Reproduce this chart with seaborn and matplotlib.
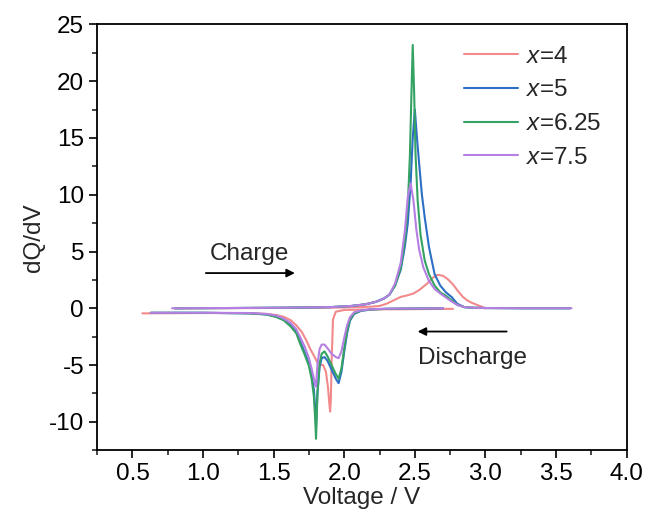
import matplotlib
matplotlib.use("Agg")
import matplotlib.pyplot as plt
import seaborn as sns
import pandas as pd

# legend labels and colours
labels = ["$x$=4", "$x$=5", "$x$=6.25", "$x$=7.5"]
colors = ["#f28a8c", "#2c6fc4", "#34a262", "#b57fe3"]

# charge branches (voltage, dQ/dV)
v_chg_4 = [0.80, 1.40, 1.90, 2.10, 2.20, 2.25, 2.30, 2.35, 2.40, 2.45, 2.49, 2.53, 2.56, 2.59,
           2.62, 2.65, 2.67, 2.70, 2.73, 2.77, 2.80, 2.84, 2.87, 2.90, 2.94, 2.97, 3.00]
q_chg_4 = [0, 0.02, 0.05, 0.1, 0.15, 0.2, 0.4, 0.7, 1.0, 1.15, 1.3, 1.6, 1.9, 2.2,
           2.6, 2.9, 2.94, 2.85, 2.6, 2.1, 1.6, 1.0, 0.7, 0.5, 0.3, 0.15, 0.0]

v_chg_5 = [0.80, 1.20, 1.60, 1.90, 2.05, 2.15, 2.22, 2.28, 2.32, 2.36, 2.40, 2.43, 2.45, 2.47,
           2.485, 2.50, 2.515, 2.53, 2.55, 2.57, 2.60, 2.64, 2.68, 2.72, 2.76, 2.80, 2.85, 2.90,
           3.00, 3.30, 3.60]
q_chg_5 = [0, 0.02, 0.05, 0.1, 0.2, 0.35, 0.55, 0.85, 1.2, 2.0, 3.4, 5.5, 7.5, 11.0,
           15.0, 17.5, 15.0, 12.8, 10.0, 8.0, 5.4, 3.0, 2.0, 1.4, 1.0, 0.4, 0.1, 0.05,
           0.02, 0, 0]

v_chg_625 = [0.80, 1.20, 1.60, 1.90, 2.05, 2.15, 2.22, 2.28, 2.32, 2.36, 2.40, 2.43, 2.45, 2.465,
             2.475, 2.485, 2.495, 2.505, 2.52, 2.54, 2.57, 2.60, 2.64, 2.68, 2.72, 2.76, 2.80,
             2.85, 2.90, 3.00, 3.30, 3.60]
q_chg_625 = [0, 0.02, 0.05, 0.1, 0.2, 0.35, 0.55, 0.85, 1.2, 2.0, 3.6, 6.0, 9.0, 13.5,
             18.5, 23.2, 19.0, 13.5, 9.5, 6.5, 4.2, 3.0, 2.0, 1.4, 1.1, 0.7, 0.3,
             0.1, 0.05, 0.02, 0, 0]

v_chg_75 = [0.78, 1.20, 1.60, 1.90, 2.05, 2.15, 2.22, 2.28, 2.32, 2.36, 2.40, 2.43, 2.45, 2.47,
            2.49, 2.51, 2.53, 2.56, 2.60, 2.64, 2.68, 2.72, 2.76, 2.80, 2.85, 2.90, 3.00, 3.30, 3.61]
q_chg_75 = [0, 0.02, 0.05, 0.1, 0.2, 0.35, 0.55, 0.85, 1.2, 2.2, 4.0, 6.9, 9.8, 11.0,
            9.5, 7.0, 5.2, 3.6, 2.4, 1.7, 1.3, 0.95, 0.6, 0.3, 0.1, 0.05, 0.02, 0, 0]

# discharge branches
v_dis_4 = [0.57, 1.00, 1.30, 1.45, 1.52, 1.57, 1.62, 1.66, 1.70, 1.73, 1.76, 1.79, 1.81, 1.83,
           1.85, 1.87, 1.885, 1.895, 1.90, 1.905, 1.91, 1.92, 1.94, 2.00, 2.20, 2.50, 2.77]
q_dis_4 = [-0.45, -0.42, -0.42, -0.5, -0.6, -0.75, -1.05, -1.5, -2.1, -2.8, -3.6, -4.3, -4.8, -5.0,
           -5.0, -5.6, -7.0, -8.5, -9.1, -8.0, -5.0, -1.0, -0.3, -0.15, -0.1, -0.08, -0.05]

v_dis = [0.63, 1.00, 1.33, 1.45, 1.52, 1.57, 1.62, 1.66, 1.69, 1.72, 1.75, 1.77, 1.785, 1.795,
         1.80, 1.81, 1.825, 1.84, 1.86, 1.88, 1.91, 1.94, 1.96, 1.98, 2.00, 2.02, 2.04, 2.07,
         2.12, 2.20, 2.30, 2.50, 2.70]
q_dis_5 = [-0.4, -0.4, -0.45, -0.55, -0.74, -1.0, -1.5, -2.1, -3.0, -3.9, -4.9, -6.0, -7.2, -9.0,
           -10.4, -7.5, -5.2, -4.4, -4.3, -4.6, -5.4, -6.2, -6.6, -5.6, -3.8, -2.2, -1.1, -0.5,
           -0.22, -0.1, -0.05, -0.02, 0]
q_dis_625 = [-0.4, -0.4, -0.45, -0.55, -0.78, -1.05, -1.6, -2.2, -3.2, -4.1, -5.1, -6.3, -7.8, -10.0,
             -11.5, -7.5, -4.9, -4.0, -3.8, -4.2, -5.0, -5.8, -6.2, -5.3, -3.5, -2.0, -1.0, -0.45,
             -0.2, -0.1, -0.05, -0.02, 0]
q_dis_75 = [-0.4, -0.4, -0.42, -0.5, -0.65, -0.9, -1.3, -1.85, -2.6, -3.4, -4.4, -5.4, -6.2, -6.8,
            -6.9, -5.0, -3.6, -3.2, -3.2, -3.5, -4.0, -4.3, -4.4, -3.8, -2.6, -1.5, -0.8, -0.35,
            -0.18, -0.08, -0.04, -0.02, 0]

charge = [(v_chg_4, q_chg_4), (v_chg_5, q_chg_5), (v_chg_625, q_chg_625), (v_chg_75, q_chg_75)]
discharge = [(v_dis_4, q_dis_4), (v_dis, q_dis_5), (v_dis, q_dis_625), (v_dis, q_dis_75)]

sns.set_style("ticks")
plt.rcParams["font.family"] = ["Liberation Sans", "DejaVu Sans"]
plt.rcParams["mathtext.fontset"] = "custom"
plt.rcParams["mathtext.it"] = "Liberation Sans:italic"
plt.rcParams["mathtext.rm"] = "Liberation Sans"
plt.rcParams["axes.unicode_minus"] = False

FS = 17.5

fig, ax = plt.subplots(figsize=(6.48, 5.21), dpi=100)
fig.subplots_adjust(left=0.150, right=0.967, top=0.953, bottom=0.136)

for i in range(4):
    df_c = pd.DataFrame({"V": charge[i][0], "dQ": charge[i][1]})
    df_d = pd.DataFrame({"V": discharge[i][0], "dQ": discharge[i][1]})
    sns.lineplot(data=df_d, x="V", y="dQ", color=colors[i], lw=1.5, sort=False, ax=ax)
    sns.lineplot(data=df_c, x="V", y="dQ", color=colors[i], lw=1.5, sort=False, ax=ax,
                 label=labels[i])

ax.set_xlim(0.25, 4.0)
ax.set_ylim(-12.5, 25)
ax.set_xticks([0.5, 1.0, 1.5, 2.0, 2.5, 3.0, 3.5, 4.0])
ax.set_xticks([0.25 + 0.5 * k for k in range(8)], minor=True)
ax.set_yticks([-10, -5, 0, 5, 10, 15, 20, 25])
ax.set_yticks([-12.5 + 5 * k for k in range(8)], minor=True)
ax.tick_params(which="major", direction="out", length=6, width=1.2, labelsize=FS, colors="black")
ax.tick_params(which="minor", direction="out", length=3.5, width=1.2)
for s in ax.spines.values():
    s.set_linewidth(1.3)
    s.set_color("black")

ax.set_xlabel("Voltage / V", fontsize=FS, labelpad=1)
ax.set_ylabel("dQ/dV", fontsize=FS, labelpad=3)

ax.annotate("", xy=(1.67, 3.1), xytext=(1.0, 3.1),
            arrowprops=dict(arrowstyle="-|>", color="black", lw=1.3, mutation_scale=12))
ax.text(1.05, 4.8, "Charge", fontsize=FS, va="center", ha="left")
ax.annotate("", xy=(2.50, -2.05), xytext=(3.17, -2.05),
            arrowprops=dict(arrowstyle="-|>", color="black", lw=1.3, mutation_scale=12))
ax.text(2.52, -4.4, "Discharge", fontsize=FS, va="center", ha="left")

leg = ax.legend(loc="upper right", bbox_to_anchor=(0.985, 0.99), frameon=False, fontsize=FS,
                handlelength=2.2, handletextpad=0.35, labelspacing=0.48, borderaxespad=0.3)

fig.savefig("out.png", dpi=100)
